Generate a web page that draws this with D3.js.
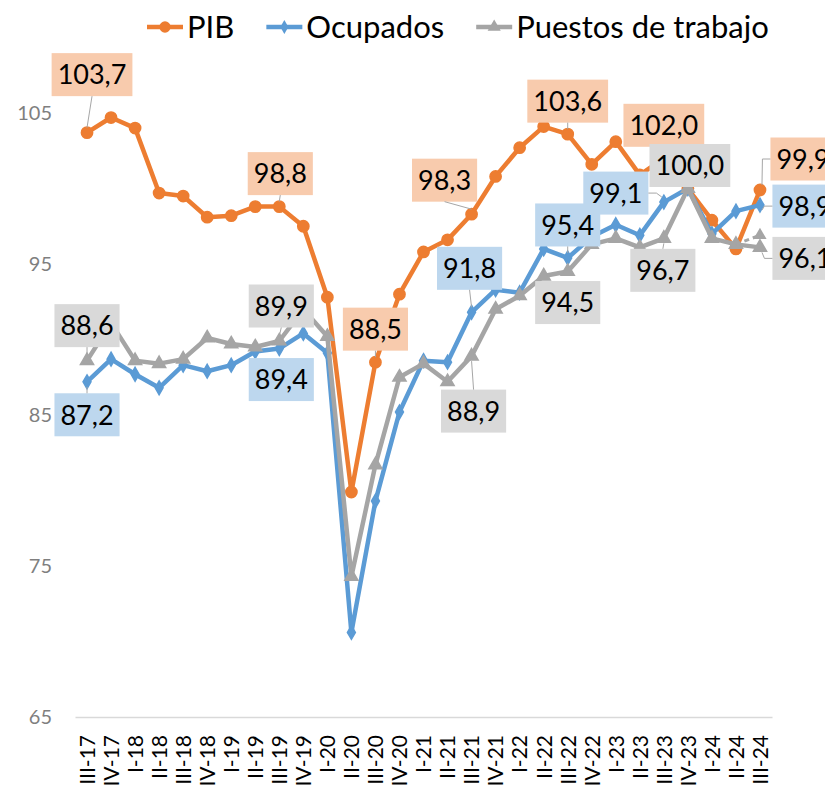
<!DOCTYPE html>
<html lang="es">
	<head>
		<meta charset="utf-8">
		<title>PIB, ocupados y puestos de trabajo</title>
		<script type="text/javascript" src="https://cdn.jsdelivr.net/npm/d3@7"></script>
		<style type="text/css">
			body {
				margin: 0;
				background: #fff;
			}

			text {
				font-family: Lato, "Open Sans", sans-serif;
			}

			.tick text {
				fill: #7f7f7f;
				font-size: 20px;
			}

			.xaxis .tick text {
				fill: #000;
				font-size: 21px;
			}

			.label text {
				font-size: 27px;
				fill: #000;
			}
		</style>
	</head>
	<body>
		<script type="text/javascript">

			//Data
			var cuartos = ["III-17", "IV-17", "I-18", "II-18", "III-18", "IV-18", "I-19", "II-19", "III-19", "IV-19",
				"I-20", "II-20", "III-20", "IV-20", "I-21", "II-21", "III-21", "IV-21", "I-22", "II-22",
				"III-22", "IV-22", "I-23", "II-23", "III-23", "IV-23", "I-24", "II-24", "III-24"];

			var pib = [103.7, 104.7, 104.0, 99.7, 99.5, 98.1, 98.2, 98.8, 98.8, 97.5,
				92.8, 79.9, 88.5, 93.0, 95.8, 96.6, 98.3, 100.8, 102.7, 104.1,
				103.6, 101.6, 103.1, 100.9, 102.0, 100.0, 97.9, 96.0, 99.9];

			var ocupados = [87.2, 88.7, 87.7, 86.8, 88.3, 87.9, 88.3, 89.2, 89.4, 90.4,
				89.1, 70.6, 79.3, 85.2, 88.6, 88.5, 91.8, 93.3, 93.1, 96.0,
				95.4, 96.8, 97.6, 96.9, 99.1, 100.0, 97.0, 98.5, 98.9];

			var puestos = [88.6, 91.1, 88.6, 88.4, 88.7, 90.1, 89.7, 89.5, 89.9, 92.0,
				90.2, 74.3, 81.7, 87.5, 88.4, 87.2, 88.9, 92.0, 92.9, 94.2,
				94.5, 96.3, 96.7, 96.1, 96.7, 100.0, 96.7, 96.3, 96.1];

			// second estimate for the last quarter (dashed)
			var puestosAvance = [96.3, 96.9];
			var cuartosAvance = ["II-24", "III-24"];

			var yTicks = [65, 75, 85, 95, 105];

			//Settings
			var w = 825
			var h = 801

			var series = [
				{ name: "PIB", values: pib, color: "#ED7D31", box: "#F8CBAD", symbol: d3.symbolCircle, size: 100 },
				{ name: "Ocupados", values: ocupados, color: "#5B9BD5", box: "#BDD7EE", symbol: d3.symbolDiamond, size: 55 },
				{ name: "Puestos de trabajo", values: puestos, color: "#A5A5A5", box: "#D9D9D9", symbol: d3.symbolTriangle, size: 75 }
			];

			// data labels: series index, point index, box offset from the point
			var etiquetas = [
				{ s: 0, i: 0, dx: 5, dy: -58 },
				{ s: 0, i: 8, dx: 1, dy: -33 },
				{ s: 0, i: 12, dx: 0, dy: -33 },
				{ s: 0, i: 16, dx: -27, dy: -34 },
				{ s: 0, i: 20, dx: 0, dy: -33 },
				{ s: 0, i: 24, dx: 0, dy: -33 },
				{ s: 0, i: 28, dx: 43, dy: -31 },
				{ s: 1, i: 0, dx: 0, dy: 33 },
				{ s: 1, i: 8, dx: 2, dy: 31 },
				{ s: 1, i: 16, dx: -2, dy: -44 },
				{ s: 1, i: 20, dx: 0, dy: -33 },
				{ s: 1, i: 24, dx: -48, dy: -9 },
				{ s: 1, i: 28, dx: 45, dy: 1 },
				{ s: 2, i: 0, dx: 0, dy: -35 },
				{ s: 2, i: 8, dx: 2, dy: -35 },
				{ s: 2, i: 16, dx: 2, dy: 55 },
				{ s: 2, i: 20, dx: 0, dy: 31 },
				{ s: 2, i: 24, dx: -1, dy: 32 },
				{ s: 2, i: 25, dx: 2, dy: -23 },
				{ s: 2, i: 28, dx: 45, dy: 11 }
			];

			var svg = d3.select("body")
				.append("svg")
				.attr("width", w)
				.attr("height", h);

			var x = d3.scalePoint()
				.domain(cuartos)
				.range([75, 772])
				.padding(0.5);

			var y = d3.scaleLinear()
				.domain([65, 105])
				.range([717, 113]);

			// y axis (labels only)
			var yAxis = svg.append("g")
				.attr("transform", "translate(75,0)")
				.call(d3.axisLeft(y).tickValues(yTicks).tickSize(0).tickPadding(23).tickFormat(d3.format("d")));
			yAxis.select(".domain").remove();

			// x axis
			var xAxis = svg.append("g")
				.attr("class", "xaxis")
				.attr("transform", "translate(0,717)")
				.call(d3.axisBottom(x).tickSize(0).tickSizeOuter(0));
			xAxis.select(".domain")
				.attr("stroke", "#d9d9d9")
				.attr("stroke-width", 1.5);
			xAxis.selectAll(".tick text")
				.attr("transform", "rotate(-90)")
				.attr("x", -18)
				.attr("y", 0)
				.attr("dy", "0.35em")
				.style("text-anchor", "end");

			var line = d3.line()
				.x(function (d, i) { return x(cuartos[i]); })
				.y(function (d) { return y(d); });

			// lines + markers
			series.forEach(function (s) {
				var g = svg.append("g");
				g.append("path")
					.datum(s.values)
					.attr("d", line)
					.attr("fill", "none")
					.attr("stroke", s.color)
					.attr("stroke-width", 4.5)
					.attr("stroke-linejoin", "round");

				g.selectAll("path.marker")
					.data(s.values)
					.enter()
					.append("path")
					.attr("class", "marker")
					.attr("d", d3.symbol().type(s.symbol).size(s.size))
					.attr("transform", function (d, i) {
						return "translate(" + x(cuartos[i]) + "," + y(d) + ")";
					})
					.attr("fill", s.color)
					.attr("stroke", s.color)
					.attr("stroke-width", 1.5);
			});

			// dashed advance estimate
			var gAv = svg.append("g");
			gAv.append("path")
				.datum(puestosAvance)
				.attr("d", d3.line()
					.x(function (d, i) { return x(cuartosAvance[i]); })
					.y(function (d) { return y(d); }))
				.attr("fill", "none")
				.attr("stroke", "#A5A5A5")
				.attr("stroke-width", 3)
				.attr("stroke-dasharray", "5,4");
			gAv.append("path")
				.attr("d", d3.symbol().type(d3.symbolTriangle).size(75))
				.attr("transform", "translate(" + x(cuartosAvance[1]) + "," + y(puestosAvance[1]) + ")")
				.attr("fill", "#A5A5A5");

			// data labels
			var fmt = function (v) { return d3.format(".1f")(v).replace(".", ","); };

			etiquetas.forEach(function (e) {
				var s = series[e.s];
				var v = s.values[e.i];
				var px = x(cuartos[e.i]);
				var py = y(v);
				var cx = px + e.dx;
				var cy = py + e.dy;

				var g = svg.append("g").attr("class", "label");
				var t = g.append("text")
					.attr("x", cx)
					.attr("y", cy)
					.attr("dy", "0.36em")
					.attr("text-anchor", "middle")
					.text(fmt(v));
				var tw = t.node().getComputedTextLength();
				var bw = tw + 12, bh = 43;
				var x0 = cx - bw / 2, x1 = cx + bw / 2, y0 = cy - bh / 2, y1 = cy + bh / 2;

				g.insert("rect", "text")
					.attr("x", x0)
					.attr("y", y0)
					.attr("width", bw)
					.attr("height", bh)
					.attr("fill", s.box);

				// leader line when the box is away from the point
				var far = px < x0 - 4 || px > x1 + 4 || py < y0 - 10 || py > y1 + 10;
				if (!far) return;
				var pts;
				if (px >= x0 && px <= x1) {
					var sy = py > y1 ? y1 : y0;
					var ey = py > y1 ? py - 5 : py + 5;
					pts = [[cx, sy], [px, ey]];
				} else {
					var sx = px < x0 ? x0 : x1;
					var ex = px < x0 ? px + 2 : px - 2;
					var el = px < x0 ? sx - 8 : sx + 8;
					var ey2 = py > cy ? py - 5 : py + 5;
					pts = [[sx, cy], [el, cy], [ex, ey2]];
				}
				svg.append("path")
					.attr("d", d3.line()(pts))
					.attr("fill", "none")
					.attr("stroke", "#a6a6a6")
					.attr("stroke-width", 1);
			});

			// legend
			var legend = svg.append("g").attr("transform", "translate(0,27)");
			var lx = 147;
			series.forEach(function (s) {
				var g = legend.append("g").attr("transform", "translate(" + lx + ",0)");
				g.append("line")
					.attr("x1", 0).attr("x2", 36)
					.attr("stroke", s.color)
					.attr("stroke-width", 4.5);
				g.append("path")
					.attr("d", d3.symbol().type(s.symbol).size(s.size))
					.attr("transform", "translate(18,0)")
					.attr("fill", s.color);
				var t = g.append("text")
					.attr("x", 40)
					.attr("dy", "0.36em")
					.style("font-size", "31px")
					.attr("fill", "#000")
					.text(s.name);
				lx += 40 + t.node().getComputedTextLength() + 32;
			});

		</script>
	</body>
</html>
